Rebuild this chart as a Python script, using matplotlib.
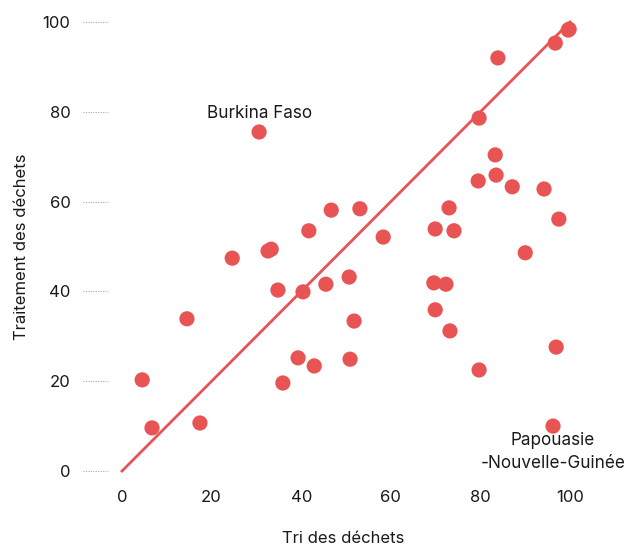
import matplotlib
matplotlib.use("Agg")
import matplotlib.pyplot as plt

plt.rcParams['font.family'] = ['Inter', 'DejaVu Sans']

tri = [4.5, 6.7, 14.5, 17.4, 24.6, 30.6, 32.6, 33.3, 34.8, 35.9, 39.3, 40.4, 41.7, 42.9,
       45.5, 46.7, 50.7, 50.9, 51.8, 53.1, 58.3, 69.9, 69.6, 69.9, 72.3, 73.0, 73.2, 74.1,
       79.5, 79.7, 79.7, 83.3, 83.5, 83.9, 87.1, 90.0, 94.2, 96.2, 96.7, 96.9, 97.5, 99.6, 99.8]
traitement = [20.3, 9.6, 33.9, 10.7, 47.4, 75.5, 49.0, 49.4, 40.3, 19.6, 25.2, 39.9, 53.5, 23.4,
              41.6, 58.1, 43.2, 24.9, 33.4, 58.4, 52.1, 53.9, 41.9, 35.9, 41.6, 58.6, 31.2, 53.5,
              64.6, 78.6, 22.5, 70.4, 65.9, 92.0, 63.3, 48.6, 62.8, 10.0, 95.3, 27.6, 56.1, 98.2, 98.4]
ref_line = [0, 100]
ticks = [0, 20, 40, 60, 80, 100]
labels = {"Burkina Faso": (30.6, 75.5), "Papouasie\n-Nouvelle-Guinée": (96.2, 10.0)}

W, H = 625, 548
fig = plt.figure(figsize=(W/100, H/100), dpi=100)
ax = fig.add_axes([108/W, (H-480)/H, 471/W, 467/H])
ax.set_xlim(-3.125, 102)
ax.set_ylim(-2, 102)

red = '#e85454'
ax.plot(ref_line, ref_line, color=red, lw=2, zorder=2)
ax.scatter(tri, traitement, s=120, color=red, edgecolors='none', zorder=3)

for s in ax.spines.values():
    s.set_visible(False)
ax.set_xticks(ticks)
ax.set_yticks(ticks)
ax.tick_params(axis='both', length=0, labelsize=12, colors='#1a1a1a')
ax.tick_params(axis='x', pad=7)
ax.tick_params(axis='y', pad=27)

# dotted tick guides on the left
trans = ax.get_yaxis_transform()
for t in ticks:
    ax.plot([-25/471, 0], [t, t], transform=trans, color='#aaaaaa', lw=0.8,
            ls=(0, (1, 1.2)), clip_on=False)

ax.set_xlabel("Tri des déchets", fontsize=12, color='#1a1a1a', labelpad=19)
ax.set_ylabel("Traitement des déchets", fontsize=12, color='#1a1a1a', labelpad=10)

(bx, by) = labels["Burkina Faso"]
ax.annotate("Burkina Faso", (bx, by), xytext=(0, 7), textcoords='offset points',
            ha='center', va='bottom', fontsize=12.3, color='#1a1a1a')
(px, py) = labels["Papouasie\n-Nouvelle-Guinée"]
ax.annotate("Papouasie\n-Nouvelle-Guinée", (px, py), xytext=(0, -4), textcoords='offset points',
            ha='center', va='top', fontsize=12.3, color='#1a1a1a', multialignment='center',
            linespacing=1.45)

fig.savefig("out.png", dpi=100)
